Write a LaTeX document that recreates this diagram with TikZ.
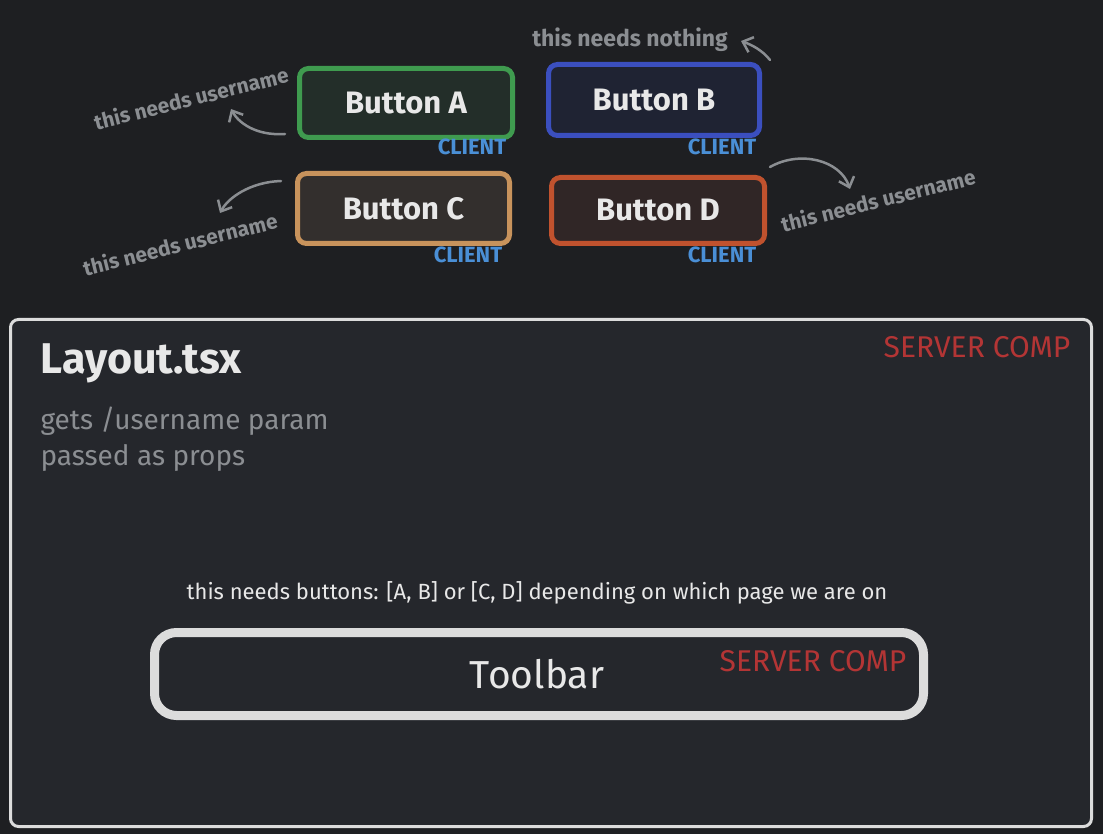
\documentclass[tikz,border=0pt]{standalone}
\usepackage{fontspec}
\setmainfont{Fira Sans}
\usetikzlibrary{arrows.meta,positioning}
\definecolor{bgdark}{HTML}{1E1F22}
\definecolor{panel}{HTML}{25272C}
\definecolor{edge}{HTML}{DCDCDC}
\definecolor{ink}{HTML}{E8E8E8}
\definecolor{note}{HTML}{8B8E92}
\definecolor{clientblue}{HTML}{4A8FD6}
\definecolor{serverred}{HTML}{B33535}
\definecolor{greenA}{HTML}{3F9B4F}\definecolor{fillA}{HTML}{232E29}
\definecolor{blueB}{HTML}{3B4FBF}\definecolor{fillB}{HTML}{1F2333}
\definecolor{tanC}{HTML}{C8935C}\definecolor{fillC}{HTML}{332F2D}
\definecolor{redD}{HTML}{C0522E}\definecolor{fillD}{HTML}{302626}
\tikzset{
  button/.style={draw, line width=5pt, rounded corners=9pt, text=ink,
    font=\fontsize{31}{36}\selectfont\bfseries},
  clientlbl/.style={text=clientblue, font=\fontsize{22}{26}\selectfont\bfseries},
  notelbl/.style={text=note, font=\fontsize{21}{25}\selectfont\bfseries},
  servertag/.style={text=serverred, font=\fontsize{30}{34}\selectfont},
  notearrow/.style={draw=note, line width=2.5pt, line cap=round,
    -{Straight Barb[length=9pt, width=16pt, line width=2.5pt]}}
}
\begin{document}
\begin{tikzpicture}[x=1pt, y=-1pt]
  \fill[bgdark] (0,0) rectangle (1103,834);
  \useasboundingbox (0,0) rectangle (1103,834);
  % the page that holds everything
  \node[draw=edge, fill=panel, line width=3pt, rounded corners=8pt,
    minimum width=1081pt, minimum height=507pt] (layout) at (551,573) {};
  \node[anchor=west, text=ink, font=\fontsize{43}{50}\selectfont\bfseries] (title) at (37,363) {Layout.tsx};
  \node[anchor=north west, align=left, text=note, font=\fontsize{28}{36}\selectfont] (params) at (37,403) {gets /username param\\passed as props};
  \node[servertag] (srvA) at (977,347) {SERVER COMP};
  % toolbar
  \node[text=ink, font=\fontsize{22}{26}\selectfont] (need) at (537,593) {this needs buttons: [A, B] or [C, D] depending on which page we are on};
  \node[draw=edge, line width=9pt, rounded corners=22pt, minimum width=769pt,
    minimum height=83pt] (toolbar) at (539,674) {};
  \node[text=ink, font=\fontsize{39}{44}\selectfont] (tbtext) at (537,674) {Toolbar};
  \node[servertag] (srvB) at (813,661) {SERVER COMP};
  % buttons
  \node[button, draw=greenA, fill=fillA, minimum width=213pt, minimum height=69pt] (btnA) at (406,103) {Button A};
  \node[button, draw=blueB, fill=fillB, minimum width=211pt, minimum height=71pt] (btnB) at (654,100) {Button B};
  \node[button, draw=tanC, fill=fillC, minimum width=212pt, minimum height=70pt] (btnC) at (403.5,208.5) {Button C};
  \node[button, draw=redD, fill=fillD, minimum width=213pt, minimum height=66pt] (btnD) at (658,210.5) {Button D};
  \node[clientlbl] (clA) at (472,147) {CLIENT};
  \node[clientlbl] (clB) at (722,147) {CLIENT};
  \node[clientlbl] (clC) at (468,255) {CLIENT};
  \node[clientlbl] (clD) at (722,255) {CLIENT};
  % notes
  \node[notelbl, rotate=14] (noteA) at (191,98) {this needs username};
  \node[notelbl, font=\fontsize{23}{27}\selectfont\bfseries] (noteB) at (630,40) {this needs nothing};
  \node[notelbl, rotate=14] (noteC) at (180,244) {this needs username};
  \node[notelbl, rotate=14] (noteD) at (878,200) {this needs username};
  \coordinate (fromA) at (285,134);
  \coordinate (toA) at (231,109);
  \coordinate (fromB) at (770,60);
  \coordinate (toB) at (741,41);
  \coordinate (fromC) at (281,181);
  \coordinate (toC) at (220,213);
  \coordinate (fromD) at (770,167);
  \coordinate (toD) at (850,189);
  \draw[notearrow] (fromA) .. controls (255,136) and (238,122) .. (toA);
  \draw[notearrow] (fromB) .. controls (762,50) and (752,45) .. (toB);
  \draw[notearrow] (fromC) .. controls (250,182) and (228,198) .. (toC);
  \draw[notearrow] (fromD) .. controls (800,150) and (840,160) .. (toD);
\end{tikzpicture}
\end{document}
